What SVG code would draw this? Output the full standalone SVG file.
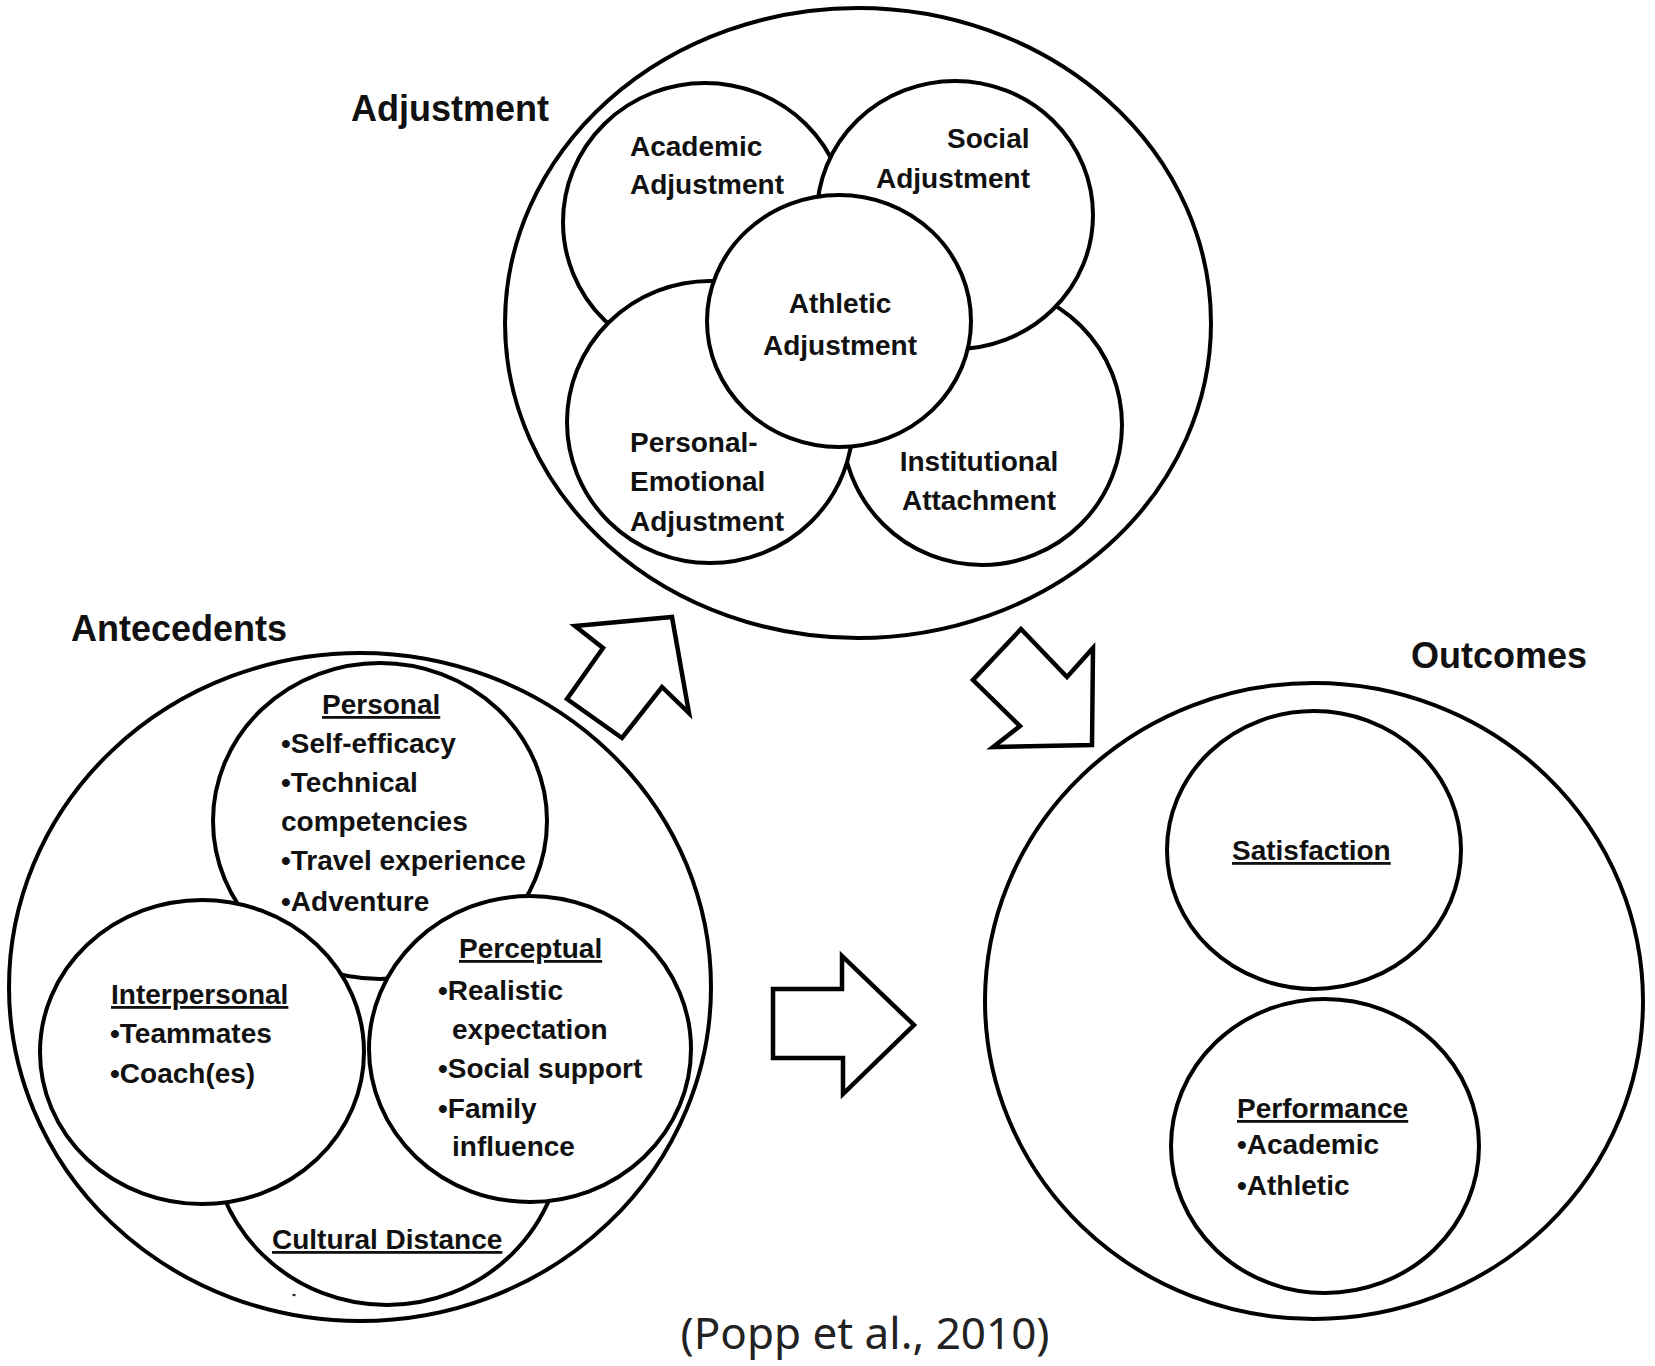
<svg xmlns="http://www.w3.org/2000/svg" width="1655" height="1366" viewBox="0 0 1655 1366">
<style>
.c{fill:#fff;stroke:#000;stroke-width:4}
.a{fill:#fff;stroke:#000;stroke-width:4.5;stroke-linejoin:miter}
text{font-family:"Liberation Sans",Arial,sans-serif;font-weight:bold;fill:#111}
.t{font-size:36px}
.l{font-size:28px}
.m{text-anchor:middle}
.u{text-decoration:underline}
.cap{font-family:"Noto Sans","Open Sans",sans-serif;font-weight:normal;font-size:44px;fill:#222;text-anchor:middle}
</style>
<rect width="1655" height="1366" fill="#fff"/>

<g id="adjustment">
  <text class="t" x="351" y="121">Adjustment</text>
  <ellipse class="c" cx="858" cy="323" rx="353" ry="315"/>
  <g id="institutional-attachment">
    <ellipse class="c" cx="982" cy="425" rx="140" ry="140"/>
    <text class="l m" x="979" y="471">Institutional</text>
    <text class="l m" x="979" y="510">Attachment</text>
  </g>
  <g id="academic-adjustment">
    <ellipse class="c" cx="705" cy="222" rx="142" ry="139"/>
    <text class="l" x="630" y="156">Academic</text>
    <text class="l" x="630" y="194">Adjustment</text>
  </g>
  <g id="social-adjustment">
    <ellipse class="c" cx="955" cy="215" rx="138" ry="134"/>
    <text class="l" x="947" y="148">Social</text>
    <text class="l" x="876" y="188">Adjustment</text>
  </g>
  <g id="personal-emotional-adjustment">
    <ellipse class="c" cx="710" cy="422" rx="143" ry="141"/>
    <text class="l" x="630" y="452">Personal-</text>
    <text class="l" x="630" y="491">Emotional</text>
    <text class="l" x="630" y="531">Adjustment</text>
  </g>
  <g id="athletic-adjustment">
    <ellipse class="c" cx="839" cy="321" rx="132" ry="126"/>
    <text class="l m" x="840" y="313">Athletic</text>
    <text class="l m" x="840" y="355">Adjustment</text>
  </g>
</g>

<g id="antecedents">
  <text class="t" x="71" y="641">Antecedents</text>
  <ellipse class="c" cx="360" cy="987" rx="351" ry="334"/>
  <g id="cultural-distance">
    <ellipse class="c" cx="387" cy="1133" rx="176" ry="172"/>
    <text class="l u" x="272" y="1249">Cultural Distance</text>
    <ellipse cx="294" cy="1295" rx="1.8" ry="1.3" fill="#333"/>
  </g>
  <g id="personal">
    <ellipse class="c" cx="380" cy="821" rx="167" ry="158"/>
    <text class="l u" x="322" y="714">Personal</text>
    <text class="l" x="281" y="753">•Self-efficacy</text>
    <text class="l" x="281" y="792">•Technical</text>
    <text class="l" x="281" y="831">competencies</text>
    <text class="l" x="281" y="870">•Travel experience</text>
    <text class="l" x="281" y="911">•Adventure</text>
  </g>
  <g id="interpersonal">
    <ellipse class="c" cx="202" cy="1052" rx="162" ry="152"/>
    <text class="l u" x="111" y="1004">Interpersonal</text>
    <text class="l" x="110" y="1043">•Teammates</text>
    <text class="l" x="110" y="1083">•Coach(es)</text>
  </g>
  <g id="perceptual">
    <ellipse class="c" cx="530" cy="1049" rx="161" ry="153"/>
    <text class="l u" x="459" y="958">Perceptual</text>
    <text class="l" x="438" y="1000">•Realistic</text>
    <text class="l" x="452" y="1039">expectation</text>
    <text class="l" x="438" y="1078">•Social support</text>
    <text class="l" x="438" y="1118">•Family</text>
    <text class="l" x="452" y="1156">influence</text>
  </g>
</g>

<g id="outcomes">
  <text class="t" x="1411" y="668">Outcomes</text>
  <ellipse class="c" cx="1314" cy="1001" rx="329" ry="318"/>
  <g id="satisfaction">
    <ellipse class="c" cx="1314" cy="850" rx="147" ry="139"/>
    <text class="l u" x="1232" y="860">Satisfaction</text>
  </g>
  <g id="performance">
    <ellipse class="c" cx="1325" cy="1146" rx="154" ry="147"/>
    <text class="l u" x="1237" y="1118">Performance</text>
    <text class="l" x="1237" y="1154">•Academic</text>
    <text class="l" x="1237" y="1195">•Athletic</text>
  </g>
</g>

<g id="connectors">
  <polygon class="a" points="575,626 672,617 689,713 662,687 622,738 567,699 603,648"/>
  <polygon class="a" points="1021,629 1067,677 1093,648 1092,745 993,747 1020,726 973,680"/>
  <polygon class="a" points="773,989 842,989 842,956 914,1025 843,1094 843,1058 773,1058"/>
</g>

<text class="cap" x="865" y="1349">(Popp et al., 2010)</text>
</svg>
